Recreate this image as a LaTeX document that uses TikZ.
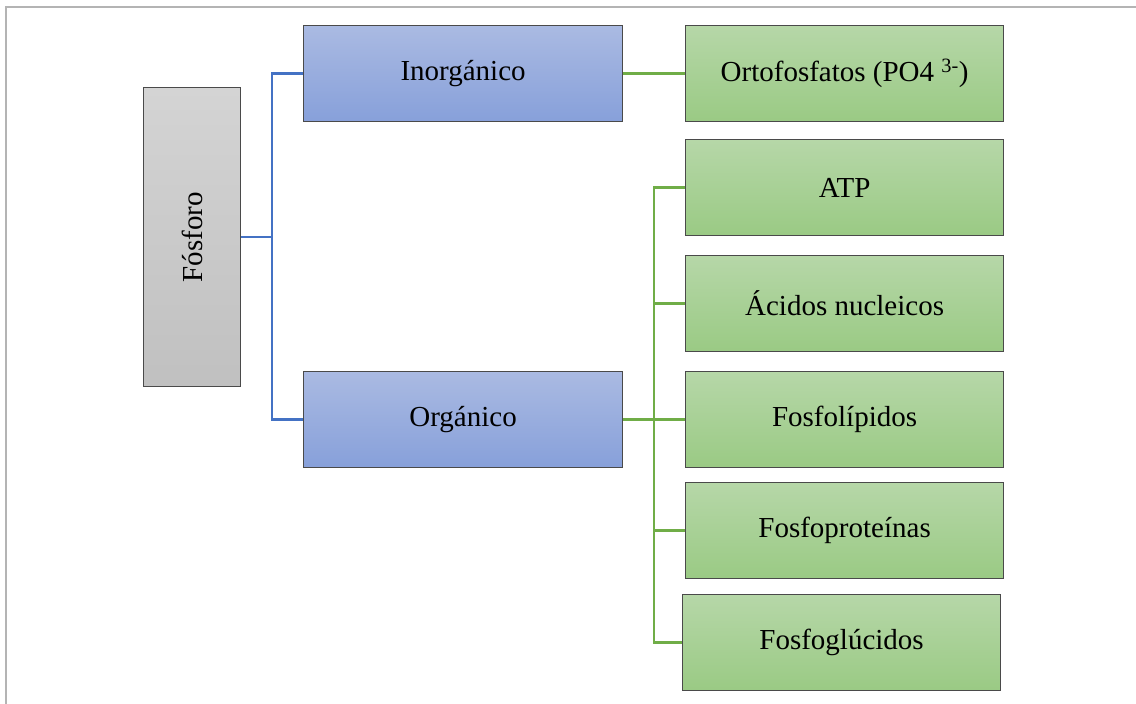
\documentclass[tikz,border=0pt]{standalone}
\usepackage{fontspec}
\setmainfont{Liberation Serif}
\definecolor{frameGray}{HTML}{B4B4B4}
\definecolor{edgeDark}{HTML}{4A4A4A}
\definecolor{blueTop}{HTML}{AABAE2}
\definecolor{blueBot}{HTML}{87A0DA}
\definecolor{greenTop}{HTML}{B6D7A8}
\definecolor{greenBot}{HTML}{9ACA84}
\definecolor{grayTop}{HTML}{D4D4D4}
\definecolor{grayBot}{HTML}{C0C0C0}
\definecolor{lineBlue}{HTML}{4472C4}
\definecolor{lineGreen}{HTML}{70AD47}
\tikzset{
  box/.style={draw=edgeDark, line width=1.2pt, inner sep=0pt, anchor=north west,
    font=\fontsize{29}{34}\selectfont, text=black},
  rootbox/.style={box, top color=grayTop, bottom color=grayBot},
  bluebox/.style={box, top color=blueTop, bottom color=blueBot},
  greenbox/.style={box, top color=greenTop, bottom color=greenBot},
  bluelink/.style={draw=lineBlue, line width=2.6pt},
  greenlink/.style={draw=lineGreen, line width=2.6pt},
}
\begin{document}
\begin{tikzpicture}[x=1pt, y=-1pt]
\useasboundingbox (0,0) rectangle (1136,704);
% page frame: only top and left edges
\draw[frameGray, line width=2pt] (6,704) -- (6,7) -- (1136,7);

% root
\node[rootbox, minimum width=97pt, minimum height=299pt] (fos) at (143,87)
  {\rotatebox{90}{Fósforo}};

% second level
\node[bluebox, minimum width=319pt, minimum height=96pt] (inorg) at (303,25) {Inorgánico};
\node[bluebox, minimum width=319pt, minimum height=96pt] (org) at (303,371) {Orgánico};

% third level
\node[greenbox, minimum width=318pt, minimum height=96pt] (orto) at (685,25)
  {Ortofosfatos (PO4 \textsuperscript{3-})};
\node[greenbox, minimum width=318pt, minimum height=96pt] (atp) at (685,139) {ATP};
\node[greenbox, minimum width=318pt, minimum height=96pt] (acid) at (685,255) {Ácidos nucleicos};
\node[greenbox, minimum width=318pt, minimum height=96pt] (lip) at (685,371) {Fosfolípidos};
\node[greenbox, minimum width=318pt, minimum height=96pt] (prot) at (685,482) {Fosfoproteínas};
\node[greenbox, minimum width=318pt, minimum height=96pt] (gluc) at (682,594) {Fosfoglúcidos};

% blue connectors
\coordinate (bx) at (272,0);
\draw[bluelink] (fos.east) -- (fos.east -| bx);
\draw[bluelink] (inorg.west) -- (inorg.west -| bx) -- (org.west -| bx) -- (org.west);

% green connectors
\coordinate (gx) at (654,0);
\draw[greenlink] (inorg.east) -- (orto.west);
\draw[greenlink] (org.east) -- (org.east -| gx);
\draw[greenlink] (atp.west) -- (atp.west -| gx) -- (gluc.west -| gx) -- (gluc.west);
\draw[greenlink] (acid.west -| gx) -- (acid.west);
\draw[greenlink] (lip.west -| gx) -- (lip.west);
\draw[greenlink] (prot.west -| gx) -- (prot.west);
\end{tikzpicture}
\end{document}
